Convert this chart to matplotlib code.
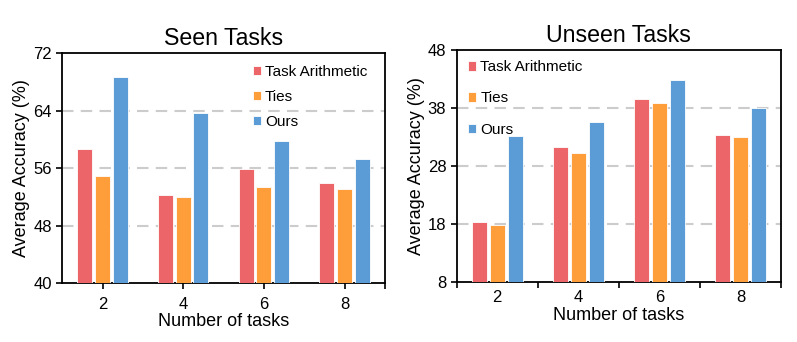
import matplotlib
matplotlib.use("Agg")
import matplotlib.pyplot as plt
import numpy as np

plt.rcParams['font.family'] = ['Liberation Sans', 'DejaVu Sans']

tasks = ["2", "4", "6", "8"]
methods = ["Task Arithmetic", "Ties", "Ours"]
colors = ["#EC6569", "#FE9E3B", "#5B9BD6"]

seen_ta = [58.6, 52.2, 55.9, 53.9]
seen_ties = [54.9, 51.9, 53.4, 53.1]
seen_ours = [68.6, 63.6, 59.8, 57.3]

unseen_ta = [18.3, 31.2, 39.6, 33.3]
unseen_ties = [17.9, 30.3, 38.9, 33.0]
unseen_ours = [33.2, 35.6, 42.9, 38.0]

seen_yticks = [40, 48, 56, 64, 72]
unseen_yticks = [8, 18, 28, 38, 48]

fig = plt.figure(figsize=(7.97, 3.42), dpi=100)
ax1 = fig.add_axes([0.078, 0.1725, 0.405, 0.6725])
ax2 = fig.add_axes([0.573, 0.1754, 0.407, 0.6786])

x = np.arange(len(tasks))
offs = [-0.22, 0.0, 0.22]
w = 0.185

def draw(ax, series, yticks, title, boundary_ticks, leg_anchor, spacing):
    for s, c, o, lab in zip(series, colors, offs, methods):
        ax.bar(x + o, s, width=w, color=c, edgecolor='white', linewidth=0.6, label=lab, zorder=3)
    ax.set_xlim(-0.5, 3.5)
    ax.set_ylim(yticks[0], yticks[-1])
    ax.set_yticks(yticks)
    for yv in yticks[1:-1]:
        ax.axhline(yv, color='#cccccc', linestyle=(0, (5.5, 3.5)), linewidth=1.5, zorder=1)
    if boundary_ticks:
        ax.set_xticks(np.arange(-0.5, 4.0, 1.0))
        ax.set_xticklabels([])
        ax.set_xticks(x, minor=True)
        ax.set_xticklabels(tasks, minor=True)
        ax.tick_params(axis='x', which='minor', length=0, labelsize=12, pad=6)
        ax.tick_params(axis='x', which='major', direction='out', length=4, width=1.2)
    else:
        ax.set_xticks(list(x) + [3.5])
        ax.set_xticklabels(tasks + [""])
        ax.tick_params(axis='x', direction='out', length=4, width=1.2, labelsize=12, pad=6)
    ax.tick_params(axis='y', direction='out', length=4, width=1.2, labelsize=12)
    for sp in ax.spines.values():
        sp.set_linewidth(1.3)
    ax.set_xlabel("Number of tasks", fontsize=13, labelpad=1)
    ax.set_ylabel("Average Accuracy (%)", fontsize=13, labelpad=2)
    ax.set_title(title, fontsize=16.7, pad=6)
    ax.legend(loc='upper left', bbox_to_anchor=leg_anchor, frameon=False, fontsize=11,
              handlelength=0.55, handleheight=0.55, handletextpad=0.25,
              labelspacing=spacing, borderaxespad=0, borderpad=0)

draw(ax1, [seen_ta, seen_ties, seen_ours], seen_yticks, "Seen Tasks", False, (0.59, 0.95), 0.72)
draw(ax2, [unseen_ta, unseen_ties, unseen_ours], unseen_yticks, "Unseen Tasks", True, (0.035, 0.955), 1.12)

fig.savefig("out.png", dpi=100)
